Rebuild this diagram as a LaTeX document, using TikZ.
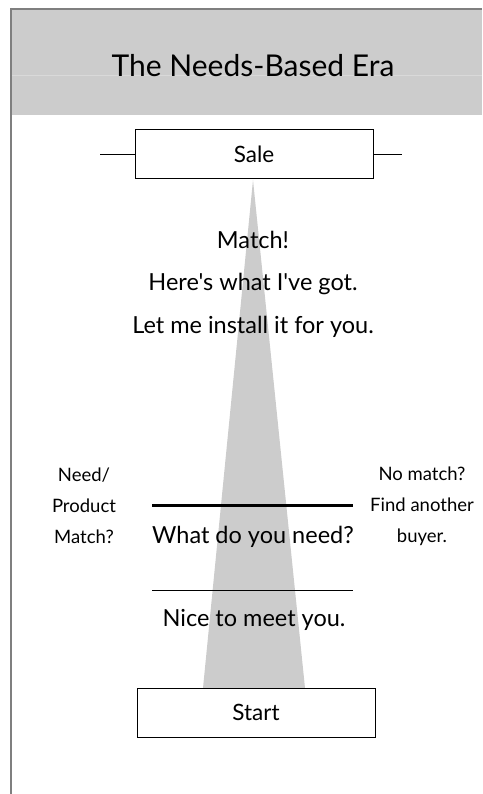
\documentclass[tikz,border=0pt]{standalone}
\usepackage{fontspec}
\setmainfont{Lato}[Ligatures=TeXOff]
\definecolor{hdr}{HTML}{CCCCCC}
\definecolor{frame}{HTML}{7F7F7F}
\begin{document}
\begin{tikzpicture}[x=1pt,y=-1pt,
  box/.style={draw=black,line width=1pt,fill=white,minimum width=238pt,minimum height=49pt,inner sep=0pt,font=\fontsize{22.5}{24}\selectfont},
  txt/.style={inner sep=0pt,font=\fontsize{23.5}{26}\selectfont},
  side/.style={inner sep=0pt,font=\fontsize{18.5}{31}\selectfont,align=center},
  conn/.style={line width=0.8pt,draw=black}]
\useasboundingbox (0,0) rectangle (482,794);
% header
\fill[hdr] (12,10) rectangle (482,115);
\draw[hdr!75!white,line width=0.6pt] (12,75) -- (482,75);
\draw[frame,line width=1.6pt] (11,9) -- (482,9);
\draw[frame,line width=1.6pt] (11,8) -- (11,794);
\node[inner sep=0pt,font=\fontsize{30}{34}\selectfont] (title) at (253,66) {The Needs-Based Era};
% funnel
\coordinate (apex) at (253,180);
\coordinate (bl) at (203,688);
\coordinate (br) at (305,688);
\fill[hdr] (apex) -- (br) -- (bl) -- cycle;
% boxes
\node[box] (sale) at (254,154.5) {Sale};
\node[box] (start) at (256,712.5) {Start};
\coordinate (sl) at (100,154.5);
\coordinate (sr) at (402,154.5);
\draw[conn] (sale.west) -- (sl);
\draw[conn] (sale.east) -- (sr);
% texts
\node[txt] (t1) at (253,240) {Match!};
\node[txt] (t2) at (253,284) {Here's what I've got.};
\node[txt] (t3) at (253,327) {Let me install it for you.};
\node[txt] (t4) at (253,537) {What do you need?};
\node[txt] (t5) at (254,620) {Nice to meet you.};
% lines
\coordinate (l1a) at (152,505.5);
\coordinate (l1b) at (353,505.5);
\coordinate (l2a) at (152,590.5);
\coordinate (l2b) at (353,590.5);
\draw[line width=2.2pt] (l1a) -- (l1b);
\draw[line width=0.9pt] (l2a) -- (l2b);
% side labels
\node[side] (left) at (84,506) {Need/\\Product\\Match?};
\node[side] (right) at (422,506) {No match?\\Find another\\buyer.};
\end{tikzpicture}
\end{document}
